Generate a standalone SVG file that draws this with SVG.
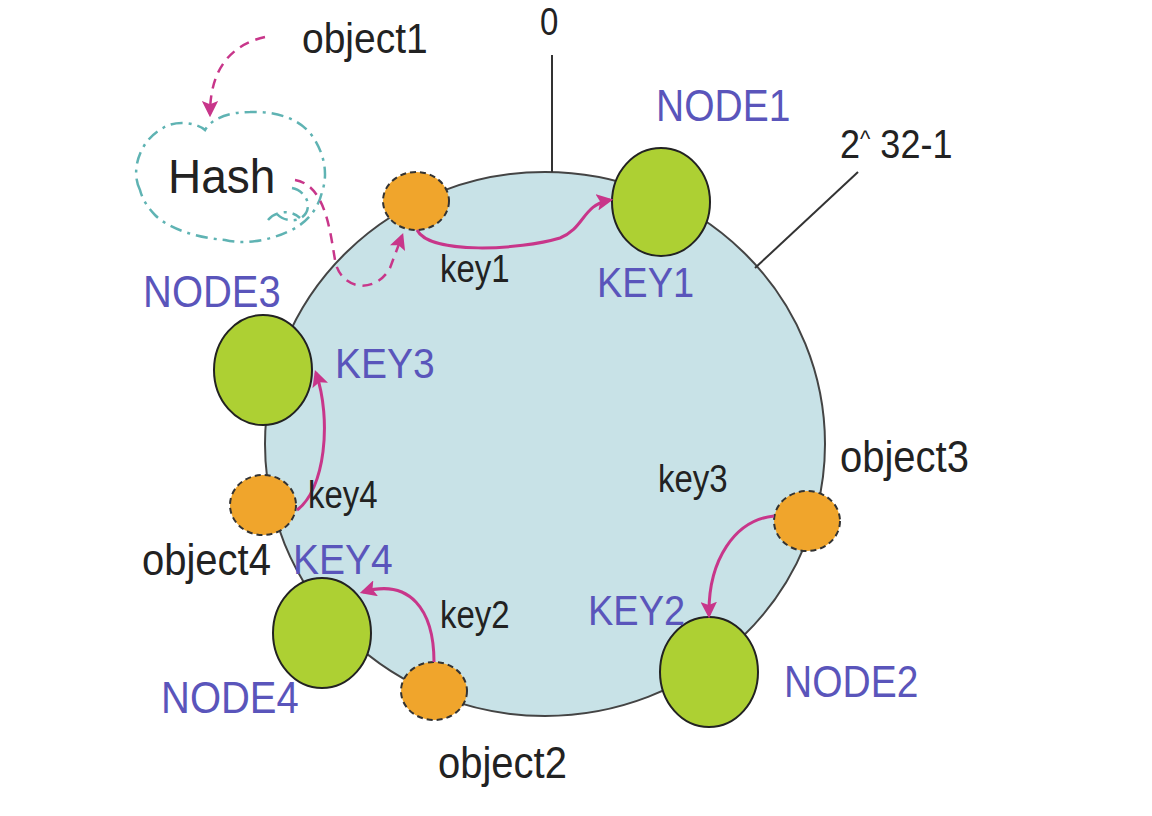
<svg xmlns="http://www.w3.org/2000/svg" width="1152" height="816" viewBox="0 0 1152 816">
<style>
.t{font-family:"Liberation Sans",Arial,sans-serif;fill:#222;}
.b{font-family:"Liberation Sans",Arial,sans-serif;fill:#5a55bb;}
.node{fill:#add033;stroke:#222;stroke-width:2;}
.obj{fill:#f0a52c;stroke:#333;stroke-width:2;stroke-dasharray:6 4;}
.arr{fill:none;stroke:#c8368a;stroke-width:3;}
.darr{fill:none;stroke:#c8368a;stroke-width:2.5;stroke-dasharray:10 7;}
.ln{stroke:#333;stroke-width:2;fill:none;}
.cloud{fill:none;stroke:#5fb3b3;stroke-width:2.5;stroke-dasharray:12 6 3 6;}
</style>
<defs>
<marker id="ah" viewBox="0 0 10 10" refX="8" refY="5" markerWidth="5.5" markerHeight="5.5" orient="auto" markerUnits="strokeWidth">
<path d="M0,0 L10,5 L0,10 L2,5 Z" fill="#c8368a"/>
</marker>
<marker id="ahd" viewBox="0 0 10 10" refX="8" refY="5" markerWidth="6.5" markerHeight="6.5" orient="auto" markerUnits="strokeWidth">
<path d="M0,0 L10,5 L0,10 L2,5 Z" fill="#c8368a"/>
</marker>
</defs>
<rect width="1152" height="816" fill="#ffffff"/>

<g id="ring">
<ellipse cx="545" cy="444" rx="280" ry="272" fill="#c8e2e7" stroke="#444" stroke-width="2"/>
</g>

<g id="markers">
<line class="ln" x1="552" y1="55" x2="552" y2="172"/>
<line class="ln" x1="858" y1="172" x2="755" y2="268"/>
<text class="t" font-size="33" transform="translate(540 35) scale(1 1.15)">0</text>
<text class="t" font-size="36" transform="translate(840 158) scale(1 1.12)">2<tspan font-size="22" dy="-10">^</tspan><tspan dy="10"> 32-1</tspan></text>
</g>

<g id="hash">
<path class="cloud" d="M140,190 C130,170 140,140 163,128 C175,120 195,122 205,130 C212,118 230,112 250,112 C275,111 300,118 313,137 C325,155 328,175 322,192 C318,210 305,225 287,232 C270,240 245,245 225,240 C200,238 170,230 155,215 C147,207 142,198 140,190 Z"/>
<path class="cloud" d="M292,188 C303,190 312,202 306,213 C300,223 284,222 277,214 M268,220 C276,210 292,210 300,218" stroke-width="2"/>
<text class="t" font-size="46" transform="translate(168 193) scale(1 1.05)">Hash</text>
</g>

<g id="node1">
<ellipse class="node" cx="661" cy="202" rx="49" ry="54"/>
<text class="b" font-size="39" transform="translate(656 121) scale(1 1.12)">NODE1</text>
<text class="b" font-size="38" transform="translate(597 297) scale(1 1.1)">KEY1</text>
</g>
<g id="node2">
<ellipse class="node" cx="709" cy="672" rx="49" ry="55"/>
<text class="b" font-size="39" transform="translate(784 697) scale(1 1.12)">NODE2</text>
<text class="b" font-size="38" transform="translate(588 625) scale(1 1.1)">KEY2</text>
</g>
<g id="node3">
<ellipse class="node" cx="263" cy="370" rx="49" ry="55"/>
<text class="b" font-size="40" transform="translate(143 307) scale(1 1.1)">NODE3</text>
<text class="b" font-size="39" transform="translate(335 378) scale(1 1.1)">KEY3</text>
</g>
<g id="node4">
<ellipse class="node" cx="322" cy="633" rx="49" ry="55"/>
<text class="b" font-size="40" transform="translate(161 713) scale(1 1.1)">NODE4</text>
<text class="b" font-size="39" transform="translate(293 574) scale(1 1.1)">KEY4</text>
</g>

<g id="object1">
<ellipse class="obj" cx="416" cy="201" rx="33" ry="29"/>
<text class="t" font-size="39" transform="translate(302 53) scale(1 1.1)">object1</text>
</g>
<g id="object2">
<ellipse class="obj" cx="434" cy="691" rx="33" ry="29"/>
<text class="t" font-size="40" transform="translate(438 778) scale(1 1.1)">object2</text>
</g>
<g id="object3">
<ellipse class="obj" cx="807" cy="521" rx="33" ry="30"/>
<text class="t" font-size="40" transform="translate(840 472) scale(1 1.1)">object3</text>
</g>
<g id="object4">
<ellipse class="obj" cx="263" cy="505" rx="33" ry="30"/>
<text class="t" font-size="40" transform="translate(142 575) scale(1 1.1)">object4</text>
</g>

<g id="connectors">
<path class="darr" d="M265,37 C230,45 210,70 210,114" marker-end="url(#ahd)"/>
<path class="darr" d="M295,180 C325,185 330,230 335,260 C340,290 375,295 390,268 L402,236" marker-end="url(#ahd)"/>
<path class="arr" d="M417,230 C430,255 520,250 560,238 C585,228 582,205 610,200" marker-end="url(#ah)"/>
<path class="arr" d="M774,516 C735,520 708,560 709,615" marker-end="url(#ah)"/>
<path class="arr" d="M434,662 C434,610 410,578 363,592" marker-end="url(#ah)"/>
<path class="arr" d="M297,510 C325,490 332,420 316,373" marker-end="url(#ah)"/>
</g>

<g id="key-labels">
<text class="t" font-size="33" transform="translate(440 282) scale(1 1.15)">key1</text>
<text class="t" font-size="33" transform="translate(440 628) scale(1 1.15)">key2</text>
<text class="t" font-size="33" transform="translate(658 492) scale(1 1.15)">key3</text>
<text class="t" font-size="33" transform="translate(308 508) scale(1 1.15)">key4</text>
</g>
</svg>
